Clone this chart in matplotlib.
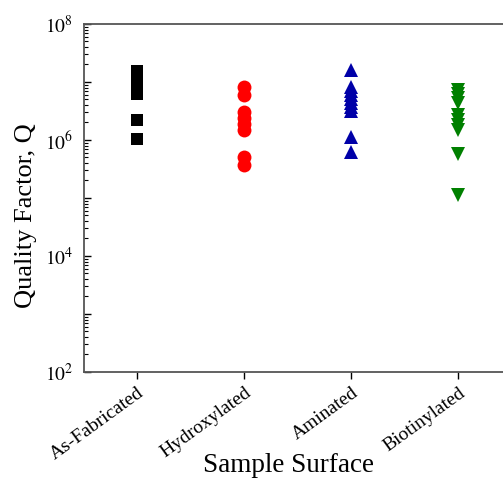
import numpy as np
import matplotlib
matplotlib.use("Agg")
import matplotlib.pyplot as plt
from matplotlib.ticker import LogLocator, FixedLocator, NullFormatter

# Quality factor for each surface treatment
surfaces = ["As-Fabricated", "Hydroxylated", "Aminated", "Biotinylated"]
q_asfab = [1.55e7, 1.25e7, 1.0e7, 7.8e6, 6.2e6, 2.2e6, 1.02e6]
q_hydrox = [8.2e6, 6.0e6, 3.04e6, 2.4e6, 1.89e6, 1.49e6, 5.1e5, 3.7e5]
q_amin = [1.61e7, 8.2e6, 7.0e6, 6.0e6, 5.1e6, 4.35e6, 3.7e6, 3.16e6, 1.13e6, 6.2e5]
q_biotin = [7.3e6, 6.2e6, 5.3e6, 4.35e6, 2.7e6, 2.2e6, 1.8e6, 1.49e6, 5.7e5, 1.13e5]

plt.rcParams['font.family'] = ['Liberation Serif', 'DejaVu Serif']
plt.rcParams['mathtext.fontset'] = 'stix'

fig = plt.figure(figsize=(5.03, 4.78), dpi=100)
ax = fig.add_axes([0.167, 0.222, 0.85, 0.728])

series = [(q_asfab, 's', 'black', 8.6),
          (q_hydrox, 'o', '#ff0000', 10),
          (q_amin, '^', '#0000a8', 10.5),
          (q_biotin, 'v', '#008000', 10.5)]
for i, (vals, mk, col, ms) in enumerate(series):
    ax.plot(np.full(len(vals), i + 1), vals, linestyle='none', marker=mk,
            color=col, markersize=ms, markeredgewidth=0)

ax.set_yscale('log')
ax.set_ylim(1e2, 1e8)
ax.set_xlim(0.5, 4.5)

ax.yaxis.set_major_locator(FixedLocator([1e2, 1e3, 1e4, 1e5, 1e6, 1e7, 1e8]))
ax.yaxis.set_minor_locator(LogLocator(base=10, subs=np.arange(2, 10)))
ax.yaxis.set_minor_formatter(NullFormatter())
ax.set_yticklabels([r'$10^{2}$', '', r'$10^{4}$', '', r'$10^{6}$', '', r'$10^{8}$'])
ax.tick_params(axis='y', which='major', direction='in', length=5, width=1,
               labelsize=14, pad=8)
ax.tick_params(axis='y', which='minor', direction='in', length=3, width=0.8)

ax.set_xticks([1, 2, 3, 4])
ax.set_xticklabels(surfaces, rotation=36, ha='right', rotation_mode='anchor', fontsize=14)
ax.tick_params(axis='x', direction='out', length=5, width=1, pad=4)

for s in ['left', 'bottom', 'top']:
    ax.spines[s].set_color('#555555')
    ax.spines[s].set_linewidth(1.3)
ax.spines['right'].set_visible(False)

ax.set_ylabel('Quality Factor, Q', fontsize=19)
ax.yaxis.set_label_coords(-0.11, 0.45)
ax.set_xlabel('Sample Surface', fontsize=19.5)
ax.xaxis.set_label_coords(0.478, -0.233)

fig.savefig('out.png', dpi=100)
